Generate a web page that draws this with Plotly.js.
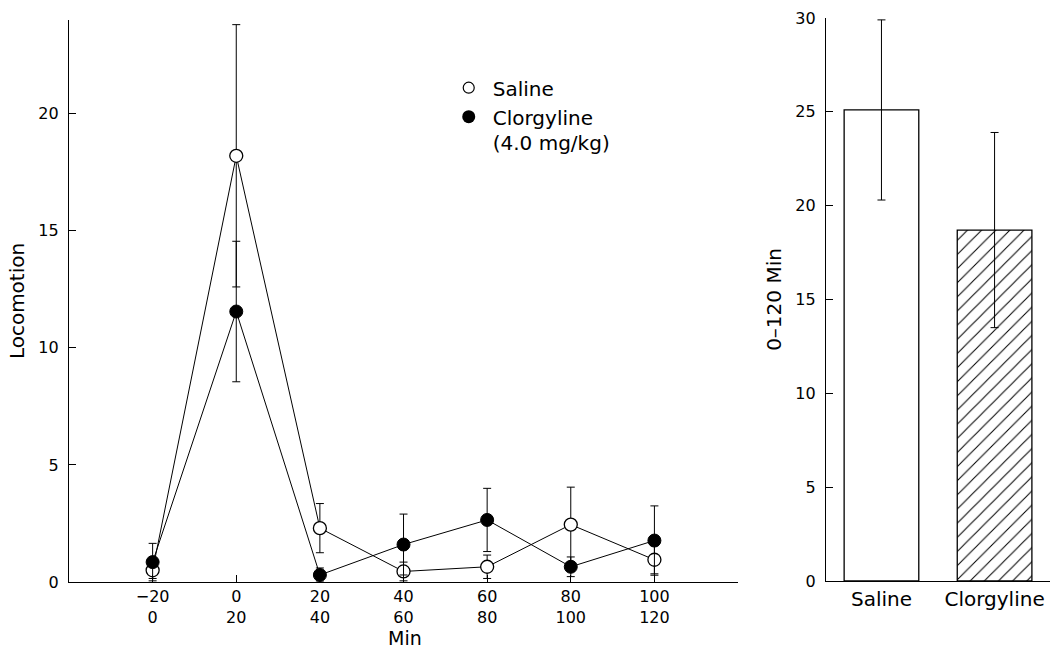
<!DOCTYPE html>
<html>
<head>
<meta charset="utf-8">
<script src="https://cdn.plot.ly/plotly-3.0.1.min.js"></script>
<style>
  html, body { margin: 0; padding: 0; background: #fff; }
  #chart { width: 1052px; height: 651px; }
</style>
</head>
<body>
<div id="chart"></div>
<script>
// 20-min bins: start / end of each bin (min relative to injection)
const binStart = [-20, 0, 20, 40, 60, 80, 100];
const binEnd = [0, 20, 40, 60, 80, 100, 120];

// Locomotion per bin, mean and SEM
const salineMean = [0.5, 18.2, 2.3, 0.45, 0.65, 2.45, 0.95];
const salineSem = [0.35, 5.6, 1.05, 0.4, 0.5, 1.6, 0.6];
const clorgMean = [0.85, 11.55, 0.3, 1.6, 2.65, 0.65, 1.77];
const clorgSem = [0.8, 3.0, 0.3, 1.3, 1.35, 0.42, 1.48];

// Cumulative 0-120 min totals
const groups = ['Saline', 'Clorgyline'];
const totalMean = [25.1, 18.7];
const totalSem = [4.8, 5.2];

const legendNames = ['Saline', 'Clorgyline<br>(4.0 mg/kg)'];

const FONT = 'DejaVu Sans, sans-serif';
const tickText = binStart.map((s, i) => (s < 0 ? '\u2212' + Math.abs(s) : String(s)) + '<br>' + binEnd[i]);

const errStyle = (arr) => ({ type: 'data', array: arr, visible: true, color: '#000', thickness: 1, width: 4 });

const traces = [
  {
    x: binStart, y: salineMean, xaxis: 'x', yaxis: 'y',
    mode: 'lines+markers', showlegend: false,
    line: { color: '#000', width: 1 },
    marker: { symbol: 'circle', size: 13, color: '#fff', line: { color: '#000', width: 1.3 } },
    error_y: errStyle(salineSem)
  },
  {
    x: binStart, y: clorgMean, xaxis: 'x', yaxis: 'y',
    mode: 'lines+markers', showlegend: false,
    line: { color: '#000', width: 1 },
    marker: { symbol: 'circle', size: 13, color: '#000', line: { color: '#000', width: 1 } },
    error_y: errStyle(clorgSem)
  },
  // legend entries (marker only)
  {
    x: [null], y: [null], xaxis: 'x', yaxis: 'y', mode: 'markers', name: legendNames[0],
    marker: { symbol: 'circle', size: 11, color: '#fff', line: { color: '#000', width: 1.2 } }
  },
  {
    x: [null], y: [null], xaxis: 'x', yaxis: 'y', mode: 'markers', name: legendNames[1],
    marker: { symbol: 'circle', size: 13, color: '#000' }
  },
  // cumulative bars: open for saline, hatched for clorgyline
  {
    type: 'bar', x: [groups[0]], y: [totalMean[0]], xaxis: 'x2', yaxis: 'y2', showlegend: false,
    width: 0.66,
    marker: { color: '#fff', line: { color: '#000', width: 1.3 } },
    error_y: { type: 'data', array: [totalSem[0]], visible: true, color: '#000', thickness: 1, width: 4 }
  },
  {
    type: 'bar', x: [groups[1]], y: [totalMean[1]], xaxis: 'x2', yaxis: 'y2', showlegend: false,
    width: 0.66,
    marker: {
      color: '#fff',
      line: { color: '#000', width: 1.3 },
      pattern: { shape: '/', fgcolor: '#000', bgcolor: '#fff', size: 10, solidity: 0.1 }
    },
    error_y: { type: 'data', array: [totalSem[1]], visible: true, color: '#000', thickness: 1, width: 4 }
  }
];

const axisFont = { family: FONT, size: 16, color: '#000' };
const titleFont = { family: FONT, size: 20, color: '#000' };

const layout = {
  width: 1052, height: 651,
  margin: { l: 69, r: 2, t: 18, b: 69 },
  paper_bgcolor: '#fff', plot_bgcolor: 'rgba(0,0,0,0)',
  font: { family: FONT, color: '#000' },
  showlegend: true,
  barmode: 'overlay',
  legend: {
    x: 0.383, y: 0.911, xanchor: 'left', yanchor: 'top',
    bgcolor: 'rgba(0,0,0,0)', font: { family: FONT, size: 20, color: '#000' },
    valign: 'top', itemwidth: 38, tracegroupgap: 0
  },
  // x-axis title of the time-course panel, placed under the two-line tick labels
  annotations: [{
    text: 'Min', xref: 'paper', yref: 'paper', x: 0.3425, y: -0.1223,
    xanchor: 'center', yanchor: 'bottom', showarrow: false,
    font: { family: FONT, size: 19, color: '#000' }
  }],
  xaxis: {
    domain: [0, 0.682], range: [-40, 120],
    tickvals: binStart.concat([120]), ticktext: tickText.concat(['']),
    ticks: 'inside', ticklen: 7, tickcolor: '#000', tickwidth: 1,
    ticklabelstandoff: 0,
    showline: true, linecolor: '#000', linewidth: 1.2,
    showgrid: false, zeroline: false, tickfont: axisFont
  },
  yaxis: {
    domain: [0, 0.9965], range: [0, 24],
    tickvals: [0, 5, 10, 15, 20],
    ticks: 'inside', ticklen: 7, tickcolor: '#000', tickwidth: 1,
    ticklabelstandoff: 6,
    showline: true, linecolor: '#000', linewidth: 1.2,
    showgrid: false, zeroline: false, tickfont: axisFont,
    title: { text: 'Locomotion', font: titleFont, standoff: 8 }
  },
  xaxis2: {
    anchor: 'y2', domain: [0.7717, 1], range: [-0.49, 1.49],
    ticks: '', showline: true, linecolor: '#000', linewidth: 1.2,
    showgrid: false, zeroline: false,
    tickfont: { family: FONT, size: 20, color: '#000' }
  },
  yaxis2: {
    anchor: 'x2', domain: [0.0018, 1], range: [0, 30],
    tickvals: [0, 5, 10, 15, 20, 25, 30],
    ticks: 'inside', ticklen: 7, tickcolor: '#000', tickwidth: 1,
    ticklabelstandoff: 6,
    showline: true, linecolor: '#000', linewidth: 1.2,
    showgrid: false, zeroline: false, tickfont: axisFont,
    title: { text: '0\u2013120 Min', font: titleFont, standoff: 8 }
  }
};

Plotly.newPlot('chart', traces, layout, { staticPlot: true, displayModeBar: false });
</script>
</body>
</html>
